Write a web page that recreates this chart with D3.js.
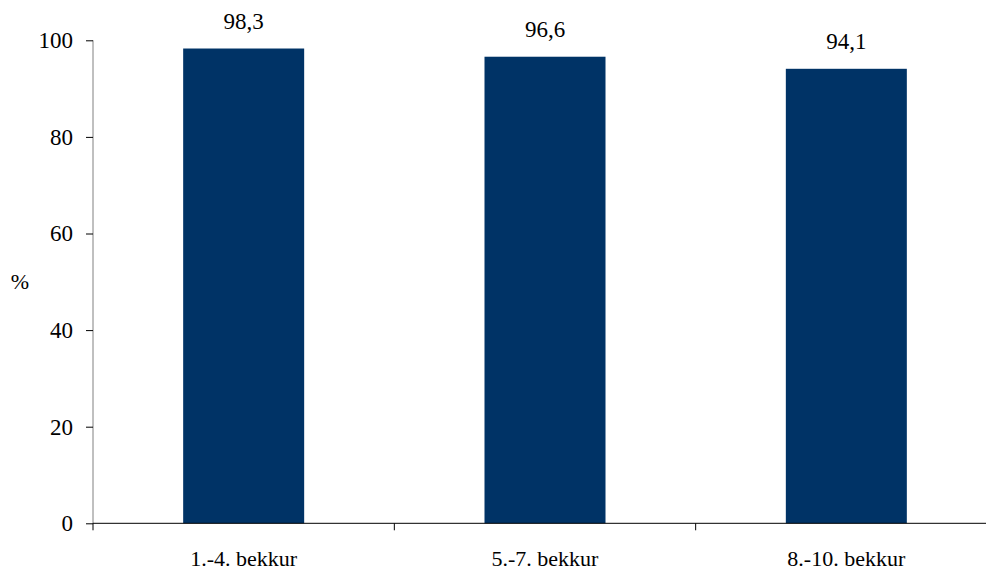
<!DOCTYPE html>
<html><head><meta charset="utf-8">
<script src="https://cdn.jsdelivr.net/npm/d3@7"></script>
<style>body{margin:0;background:#fff}svg{display:block}</style>
</head><body>
<script>
const categories = ["1.-4. bekkur", "5.-7. bekkur", "8.-10. bekkur"];
const values = [98.3, 96.6, 94.1];
const valueLabels = ["98,3", "96,6", "94,1"];
const yTicks = [0, 20, 40, 60, 80, 100];
const yTitle = "%";

const W = 986, H = 572;
const FONT = "'Liberation Serif'";
const svg = d3.select("body").append("svg").attr("width", W).attr("height", H);
const x = d3.scaleBand().domain(categories).range([93, 997]).paddingInner(0).paddingOuter(0);
const y = d3.scaleLinear().domain([0, 100]).range([523.3, 40.3]);
const fsNum = 23, fsCat = 22;
const barW = 121;

svg.selectAll("rect.bar").data(values).enter().append("rect")
  .attr("x", (d, i) => x(categories[i]) + x.bandwidth() / 2 - barW / 2)
  .attr("width", barW)
  .attr("y", d => y(d))
  .attr("height", d => y(0) - y(d))
  .attr("fill", "#003366");

// y axis
const ya = svg.append("g").attr("transform", "translate(93,0)")
  .call(d3.axisLeft(y).tickValues(yTicks).tickSize(7).tickPadding(13).tickFormat(d3.format("d")));
ya.attr("font-family", FONT).attr("font-size", fsNum);
ya.select(".domain").attr("stroke", "#808080").attr("d", `M0,${y(100)}V${y(0)}`);
ya.selectAll(".tick line").attr("stroke", "#000");
ya.selectAll("text").style("font-size", fsNum + "px").style("font-family", FONT).attr("fill", "#000");

// x axis
const xa = svg.append("g").attr("transform", `translate(0,${y(0)})`);
xa.append("line").attr("x1", 93).attr("x2", 997).attr("y1", 0).attr("y2", 0).attr("stroke", "#000");
const bounds = categories.map(c => x(c)).concat([x(categories[2]) + x.bandwidth()]);
xa.selectAll("line.t").data(bounds).enter().append("line")
  .attr("x1", d => d).attr("x2", d => d).attr("y1", 0).attr("y2", 7).attr("stroke", "#000");
xa.selectAll("text.c").data(categories).enter().append("text")
  .attr("x", d => x(d) + x.bandwidth() / 2).attr("y", 43)
  .attr("text-anchor", "middle").style("font-size", fsCat + "px").style("font-family", FONT).text(d => d);

// value labels
svg.selectAll("text.v").data(values).enter().append("text")
  .attr("x", (d, i) => x(categories[i]) + x.bandwidth() / 2)
  .attr("y", d => y(d) - 20)
  .attr("text-anchor", "middle").style("font-size", fsNum + "px").style("font-family", FONT)
  .text((d, i) => valueLabels[i]);

svg.append("text").attr("x", 20).attr("y", 289).attr("text-anchor", "middle")
  .style("font-size", fsCat + "px").style("font-family", FONT).text(yTitle);
</script>
</body></html>
